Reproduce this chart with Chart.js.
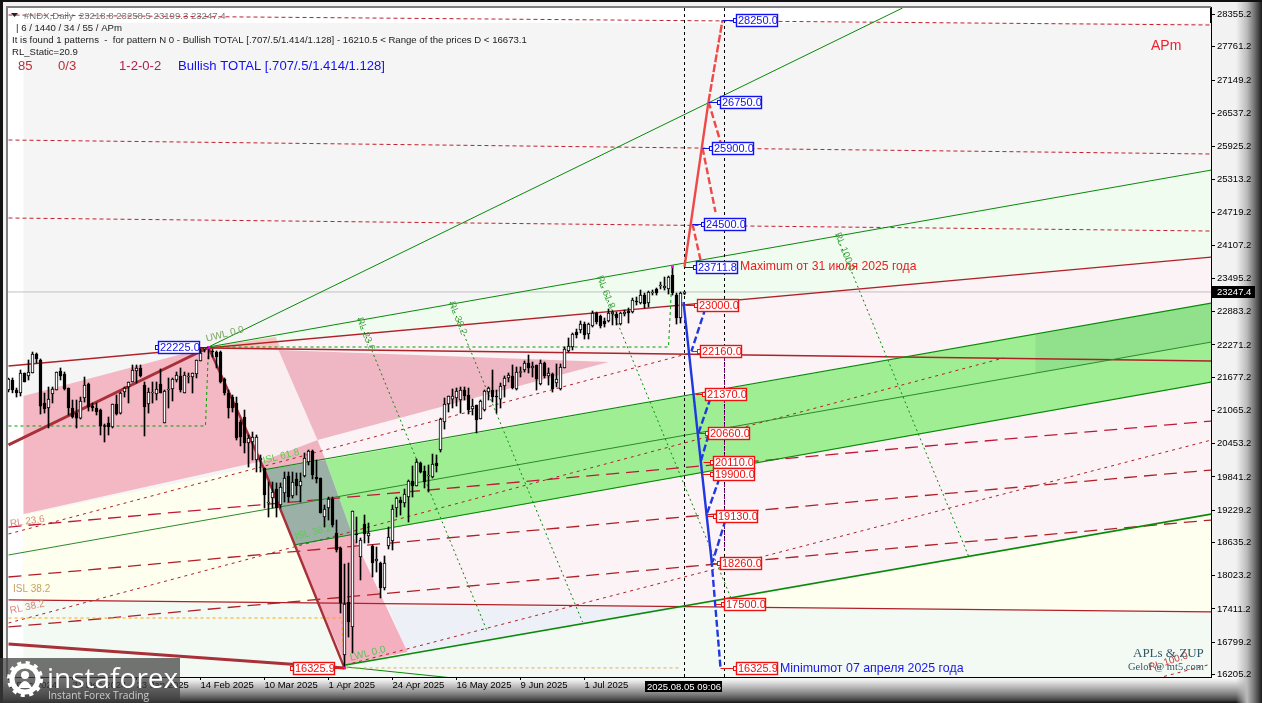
<!DOCTYPE html>
<html lang="en">
<head>
<meta charset="UTF-8">
<title>#NDX Daily</title>
<script src="https://cdn.jsdelivr.net/npm/chart.js"></script>
<style>
  html, body { margin: 0; padding: 0; }
  body {
    width: 1262px; height: 703px; overflow: hidden; position: relative;
    background:
      linear-gradient(#111, #111) top / 100% 2px no-repeat,
      linear-gradient(#111, #111) left / 3px 100% no-repeat,
      linear-gradient(to left, #1a1a1a 0, #333 2px, #777 8px, #bbb 15px, rgba(240,240,240,0) 26px) right / 28px 100% no-repeat,
      linear-gradient(to top, #111 0, #444 3px, #777 8px, #aaa 14px, #e8e8e8 22px, #fff 26px) bottom / 100% 27px no-repeat,
      #f2f2f2;
  }
  canvas { position: absolute; left: 0; top: 0; }
  #logo {
    position: absolute; left: 0; top: 658px; width: 180px; height: 45px;
    background: rgba(62,62,62,0.72); color: #fff; font-family: "Open Sans", sans-serif;
  }
  #logo svg { position: absolute; left: 7px; top: 3px; }
  #logo .name { position: absolute; left: 47px; top: -1px; font-size: 28px; line-height: 40px; letter-spacing: 0; }
  #logo .sub { position: absolute; left: 48px; top: 31px; font-size: 10.2px; line-height: 13px; color: #ccc; }
</style>
</head>
<body>
<canvas id="chart" width="1262" height="703"></canvas>
<div id="logo">
  <svg width="36" height="36" viewBox="0 0 36 36">
    <circle cx="18" cy="18" r="13" fill="none" stroke="#fff" stroke-width="5"/>
    <circle cx="18" cy="18" r="16" fill="none" stroke="#fff" stroke-width="4" stroke-dasharray="4 4.4"/>
    <circle cx="18" cy="14" r="4" fill="#fff"/>
    <path d="M11 27 Q18 13 25 27 Z" fill="#fff"/>
  </svg>
  <div class="name">instaforex</div>
  <div class="sub">Instant Forex Trading</div>
</div>
<script>
// daily candles, oldest first
const opens = [
21442,21627,21442,21387,21756,21701,21756,22106,21995,21203,
21111,21369,21442,21793,21737,21479,21111,21018,20926,21295,
21553,21147,21111,21074,20780,20835,20761,21184,21018,21405,
21498,21590,21793,21848,21535,21184,21387,21369,21553,20835,
21442,21461,21627,21701,21387,21682,21682,21737,21977,22197,
22216,22161,22142,22142,21645,21387,21313,21203,20853,20945,
20467,20485,20154,20154,20007,19362,19454,19620,19325,19546,
19860,19491,19804,19675,19860,20117,20320,19841,19823,19104,
19270,19436,18810,18534,16564,17540,17079,18790,18368,18975,
18755,18571,18295,18258,17798,18571,18663,19270,19417,19362,
19472,19768,19675,20099,19952,19860,19841,20099,20338,20853,
21184,21276,21295,21258,21442,21350,21092,21166,20908,21074,
21405,21442,21332,21276,21516,21664,21701,21461,21765,21811,
21940,21848,21903,21553,21940,21701,21737,21571,21461,21848,
22161,22234,22510,22547,22657,22473,22621,22860,22805,22713,
22713,22842,22842,22657,22842,22897,22878,23081,23044,23191,
23044,23228,23302,23357,23320,23302,23559,23191,22768,23218.8];
const highs = [
21664,21664,21479,21811,21756,21995,22142,22124,22014,21387,
21498,21498,21774,21848,21774,21479,21258,21258,21313,21682,
21571,21203,21203,21092,20816,20945,21184,21350,21405,21498,
21590,21903,21903,21903,21590,21479,21590,21590,21830,21442,
21664,21664,21774,21848,21774,21756,21756,21995,22197,22225,
22225,22197,22161,22161,21664,21442,21350,21313,20890,21074,
20614,20669,20614,20246,20007,19749,19749,19731,19731,19933,
19933,19933,19915,19915,20283,20338,20338,20154,19823,19325,
19472,19472,19049,18552,18239,18258,19215,19104,18718,19141,
18994,18589,18552,18276,18387,18920,19325,19472,19472,19620,
19786,20044,20172,20117,20044,20062,20264,20246,20926,21295,
21332,21461,21479,21498,21498,21479,21276,21166,21258,21442,
21498,21811,21442,21571,21701,21756,21903,21866,21866,21977,
22087,21958,21903,21995,21958,21848,21756,21922,21922,22234,
22400,22492,22565,22713,22694,22676,22897,22878,22823,22768,
22934,22897,22878,22878,22915,22952,23136,23154,23283,23228,
23265,23283,23320,23430,23522,23541,23711.8,23228,23246,23258.5];
const lows = [
21405,21390,21313,21332,21590,21627,21756,21940,21000,21018,
20743,21203,21442,21627,21442,20982,20926,20743,20908,21221,
21055,21055,20982,20614,20485,20614,20743,20982,21000,21313,
21203,21590,21571,21682,20596,21018,21203,21258,21387,20835,
21111,21240,21590,21405,21387,21571,21387,21664,21977,22142,
22014,22050,21848,21571,21350,20926,21037,20522,20412,20283,
20025,20154,19933,19933,19270,19104,19270,19104,19270,19380,
19380,19454,19509,19380,19841,20062,19804,19731,19178,18920,
19049,18920,18460,17337,16326,16895,16601,18626,17945,18626,
18626,18000,18092,17614,17761,18516,18497,19104,19141,19288,
19012,19472,19675,19915,19638,19564,19823,19933,20301,20724,
21037,21111,21147,21018,21258,21000,20982,20651,20908,21055,
21258,21221,21018,21111,21313,21590,21461,21442,21682,21774,
21756,21682,21442,21535,21664,21535,21405,21498,21442,21848,
22142,22179,22400,22492,22381,22381,22602,22657,22584,22602,
22694,22639,22639,22639,22805,22676,22860,23007,23026,22952,
22970,23191,23191,23302,23283,23209,23191,22657,22676,23199.3];
const closes = [
21645,21442,21387,21756,21590,21774,22106,22014,21147,21092,
21276,21461,21774,21701,21461,21111,20945,20926,21240,21535,
21129,21111,21037,20780,20770,20761,21184,21000,21387,21479,
21590,21811,21848,21701,21129,21405,21405,21461,21387,21424,
21461,21645,21719,21442,21719,21701,21756,21995,22124,22216,
22207,22142,22050,21590,21387,21111,21111,20559,20577,20467,
20559,20577,20577,20191,19509,19380,19564,19270,19657,19823,
19472,19749,19675,19768,20191,20320,19878,19804,19178,19251,
19436,18957,18497,17522,17503,17171,19215,18773,18681,18791,
18810,18258,18332,17798,18258,18736,19251,19454,19362,19528,
19768,19675,20117,19933,19749,19878,20080,20044,20908,21184,
21332,21332,21424,21442,21332,21074,21147,20890,21240,21424,
21479,21313,21313,21516,21664,21719,21479,21774,21774,21940,
21848,21885,21645,21940,21701,21756,21461,21645,21866,22197,
22253,22473,22455,22657,22455,22657,22860,22694,22621,22657,
22860,22878,22768,22860,22878,22860,23099,23062,23191,23026,
23246,23246,23228,23375,23357,23522,23228,22768,23228,23247.4];

// axes
const yTicks = [28355.2,27761.2,27149.2,26537.2,25925.2,25313.2,24719.2,24107.2,23495.2,22883.2,22271.2,21677.2,21065.2,20453.2,19841.2,19229.2,18635.2,18023.2,17411.2,16799.2,16205.2];
const xTicks = [0,16,32,48,64,80,96,112,128,144];
const xTickLabels = ['9 Dec 2024','31 Dec 2024','23 Jan 2025','14 Feb 2025','10 Mar 2025','1 Apr 2025','24 Apr 2025','16 May 2025','9 Jun 2025','1 Jul 2025'];
const lastPrice = 23247.4;

// shaded zones, [bar, price]
const zoneBase = [[3.75,28199],[300.75,28199],[300.75,16159],[3.75,16159]];
const zoneChannelTop = [[50,22234],[300.75,25492],[300.75,23891],[50,22230]];
const zoneFan = [[50,22234],[300.75,23891],[300.75,19160],[84.25,16380]];
const zoneBottom = [[3.75,17573],[300.75,17356],[300.75,16159],[3.75,16159]];
const zoneCreamLeft = [[3.75,19141],[64,20062],[77.75,17540],[3.75,17573]];
const zoneCreamRight = [[170.5,17448],[300.75,19160],[300.75,17356]];
const zoneLavender = [[95,17448],[170.5,17448],[99.75,16601]];
const zonePinkLeft = [[3.75,21332],[50,22234],[63.5,20135],[3.75,19160]];
const zonePinkStrip = [[63.5,20135],[77.25,20522],[79.25,20154],[63.5,19970]];
const zonePale = [[50,22234],[67.5,22179],[77.25,20522],[63.5,20135]];
const zonePinkTip = [[67.5,22179],[150,21958],[77.25,20522]];
const zoneSalmon = [[50,22234],[66.75,22418],[68.25,22179]];
const zoneGray = [[63.5,19970],[79.25,20154],[86,18773],[71.75,18571]];
const zoneGreen = [[79.25,20154],[300.75,23044],[300.75,21590],[86,18773]];
const zoneGreenDark = [[256.75,22455],[300.75,23044],[300.75,22326],[256.75,21756]];
const zonePinkLow = [[71.75,18571],[86,18773],[99.75,16619],[84.25,16380]];

// channel and fan lines
const lineRed = [[0,21884],[300.75,23891]];
const lineRed22160 = [[50,22216],[300.75,21976]];
const lineRed17500 = [[0,17577],[300.75,17356]];
const lineGreenSteep = [[50,22234],[223.5,28475]];
const lineGreenTop = [[50,22234],[300.75,25492]];
const lineGreenUpper = [[63.5,19970],[300.75,23044]];
const lineGreenMid = [[0,18405],[300.75,22326]];
const lineGreenLower = [[71.25,18589],[300.75,21590]];
const lineGreenThick = [[84.25,16380],[300.75,19160]];
const lineGreenLow = [[84.5,16343],[116,16104]];
const resistance1 = [[0,28346],[300.75,28162]];
const resistance2 = [[0,26045],[300.75,25787]];
const resistance3 = [[0,24609],[300.75,24369]];
const fanDots1 = [[0,18792],[170.5,22124]];
const fanDots2 = [[0,17153],[248.75,22032]];
const fanDots3 = [[84.25,16380],[300.75,20522]];
const fanDots4 = [[285.5,16104],[300.75,16398]];
const fanDash1 = [[0,18920],[300.75,20872]];
const fanDash2 = [[0,18000],[300.75,19970]];
const fanDash3 = [[0,17080],[300.75,19049]];
const timeLine1 = [[87.5,22768],[119.75,16987]];
const timeLine2 = [[110.5,23062],[143.5,17172]];
const timeLine3 = [[147.5,23523],[180.5,17632]];
const timeLine4 = [[207,24296],[240,18387]];
const stepGreenLeft = [[0,20780],[49.25,20780],[50,22234]];
const stepGreenRight = [[50,22234],[165,22234],[166,23711.8]];
const stepOrangeLeft = [[0,17245],[83.25,17245],[84,16326]];
const stepOrangeRight = [[84.25,16326],[168,16326]];
const swingUp = [[0,20430],[50,22225]];
const swingDown1 = [[50,22225],[64,19970]];
const swingDown2 = [[64,19970],[84,16325.9]];
const swingBase = [[0,16767],[84,16325.9]];
const cursorLeft = [[169,28475],[169,16159]];
const cursorRight = [[179,28475],[179,16159]];
const cursorRightMid = [[179,22142],[179,18500]];

// projected patterns
const projUp = [[169,23711.8],[175,26750]];
const projUpEnd = [[175,26750],[178.5,28250]];
const projUpBack = [[[171,24500],[173,23836]],[[173.5,25900],[176.75,24720]],[[175,26750],[178,26008]]];
const projDown = [[168.75,23062],[175.75,18313]];
const projDownEnd = [[175.75,18313],[178,16325.9]];
const projDownBack = [[[174.25,22952],[170.75,22160]],[[175.5,21295],[172.5,20650]],[[175,20614],[173,20110]],[[177.75,19822],[174.5,19141]],[[179.25,19049],[176,18276]]];
const pivots = [[50,22225],[166,23711.8],[84,16325.9]];

// level tags: value, bar it points at, bar the box starts on
const blueLevels = [28250,26750,25900,24500,23711.8,22225];
const bluePoints = [178.5,175,173.5,171,169,50];
const blueBoxes = [181.75,177.75,175.75,173.75,171.75,37.25];
const redLevels = [23000,22160,21370,20660,20110,19900,19130,18260,17500,16325.9,16325.9];
const redPoints = [169.25,170.75,171.75,172.5,173.75,173.5,174.75,175.5,176.75,178,84];
const redBoxes = [172,172.75,174,174.75,176,176,176.75,177.75,178.75,181.75,71];

const headerLines = ['| 6 / 1440 / 34 / 55 / APm','It is found 1 patterns  -  for pattern N 0 - Bullish TOTAL [.707/.5/1.414/1.128] - 16210.5 < Range of the prices D < 16673.1','RL_Static=20.9'];

const toPts = arr => arr.map(p => ({ x: p[0], y: p[1] }));
const datasets = [];
let order = 1000;

function zone(points, color) {
  datasets.push({ type: 'line', data: toPts(points), backgroundColor: color, borderWidth: 0, pointRadius: 0, fill: 'shape', order: order-- });
}
function line(points, color, width, dash) {
  datasets.push({ type: 'line', data: toPts(points), borderColor: color, borderWidth: width, borderDash: dash || [], pointRadius: 0, fill: false, order: order-- });
}

zone(zoneBase, '#f5f5f5');
zone(zoneBottom, '#f3f9f3');
zone(zoneCreamLeft, '#fffff0');
zone(zoneChannelTop, '#f0fcf0');
zone(zoneFan, '#fbf3f5');
zone(zoneCreamRight, '#fffff0');
zone(zoneLavender, '#eef0f8');
zone(zonePinkLeft, '#f4b8c4');
zone(zonePale, '#fbeef0');
zone(zonePinkStrip, '#f0b4c0');
zone(zonePinkTip, '#efb7c3');
zone(zoneSalmon, '#f6c6c0');
zone(zoneGreen, '#a0ee94');
zone(zoneGreenDark, '#90e08c');
zone(zoneGray, '#9bb1a8');
zone(zonePinkLow, '#f5b0bf');

const darkRed = '#b02028', green = '#088a08';
line([[-1,lastPrice],[301,lastPrice]], '#c0c0c0', 1);
line(resistance1, '#c02030', 1, [4,3]);
line(resistance2, '#c02030', 1, [4,3]);
line(resistance3, '#c02030', 1, [4,3]);
line(fanDots1, darkRed, 1, [3,4]);
line(fanDots2, darkRed, 1, [3,4]);
line(fanDots3, darkRed, 1, [3,4]);
line(fanDots4, darkRed, 1, [3,4]);
line(fanDash1, '#c01838', 1.3, [13,7]);
line(fanDash2, darkRed, 1.3, [13,7]);
line(fanDash3, darkRed, 1.3, [13,7]);
line(lineRed, darkRed, 1.3);
line(lineRed22160, darkRed, 1.3);
line(lineRed17500, darkRed, 1.3);
line(lineGreenSteep, green, 1);
line(lineGreenTop, green, 1);
line(lineGreenUpper, green, 1.2);
line(lineGreenMid, '#2a8a2a', 1);
line(lineGreenLower, green, 1.2);
line(lineGreenThick, green, 1.6);
line(lineGreenLow, green, 1);
[timeLine1, timeLine2, timeLine3, timeLine4].forEach(t => line(t, green, 1, [2,3]));
line(stepGreenLeft, '#00a000', 1, [3,3]);
line(stepGreenRight, '#00a000', 1, [3,3]);
line(stepOrangeLeft, '#ffa500', 1, [3,3]);
line(stepOrangeRight, '#e8a850', 1, [3,3]);
line(swingUp, '#a83038', 3);
line(swingDown1, '#a83038', 2.4);
line(swingDown2, '#a83038', 2.4);
line(swingBase, '#a83038', 3);
line(cursorLeft, '#000', 1, [3,3]);
line(cursorRight, '#000', 1, [3,3]);
line(cursorRightMid, '#800080', 1, [3,3]);

// candles: wick first, body on top
const candleOrder = order--;
datasets.push({ type: 'bar', data: highs.map((h, i) => ({ x: i, y: [lows[i], h] })), backgroundColor: '#000', barThickness: 1, grouped: false, order: candleOrder });
datasets.push({
  type: 'bar', data: opens.map((o, i) => ({ x: i, y: [o, closes[i]] })),
  backgroundColor: opens.map((o, i) => closes[i] >= o ? '#fff' : '#000'),
  borderColor: '#000', borderWidth: 1, borderSkipped: false, barThickness: 3, minBarLength: 1, grouped: false, order: candleOrder - 1
});
order -= 2;

line(projUp, '#f04848', 2.4);
line(projUpEnd, '#f04848', 2.4, [8,2]);
projUpBack.forEach(b => line(b, '#f04848', 2.4, [7,3]));
line(projDown, '#2038e0', 2.4);
line(projDownEnd, '#2038e0', 2.4, [7,3]);
projDownBack.forEach(b => line(b, '#2038e0', 2.4, [7,3]));
datasets.push({ type: 'line', data: toPts(pivots), showLine: false, pointStyle: 'rect', pointRadius: 2, pointBackgroundColor: '#ff00ff', pointBorderWidth: 0, order: order-- });

function text(ctx, str, x, y, font, color, angle) {
  ctx.save();
  ctx.translate(x, y);
  if (angle) ctx.rotate(angle * Math.PI / 180);
  ctx.font = font;
  ctx.fillStyle = color;
  ctx.textAlign = 'left';
  ctx.textBaseline = 'middle';
  ctx.fillText(str, 0, 0);
  ctx.restore();
}

function levelTags(chart, levels, points, boxes, color) {
  const ctx = chart.ctx, sx = chart.scales.x, sy = chart.scales.y;
  levels.forEach((v, i) => {
    const py = Math.round(sy.getPixelForValue(v)) + 0.5;
    const left = Math.round(sx.getPixelForValue(boxes[i])) + 0.5;
    const from = sx.getPixelForValue(points[i]);
    ctx.strokeStyle = color; ctx.lineWidth = 1;
    ctx.beginPath(); ctx.moveTo(from, py); ctx.lineTo(left, py); ctx.stroke();
    ctx.fillStyle = '#fff';
    ctx.fillRect(left - 3, py - 2, 3, 4); ctx.strokeRect(left - 3, py - 2, 3, 4);
    ctx.fillRect(left, py - 6, 41, 12);
    ctx.lineWidth = 1.4; ctx.strokeRect(left, py - 6, 41, 12);
    text(ctx, v.toFixed(1), left + 1.5, py + 0.5, '11px "Liberation Sans"', color);
  });
}

const overlay = {
  id: 'overlay',
  beforeDraw(chart) {
    const { ctx, chartArea: a } = chart;
    ctx.fillStyle = '#fff';
    ctx.fillRect(a.left, a.top, a.width, a.height);
  },
  afterDraw(chart) {
    const { ctx, chartArea: a, scales: { x: sx, y: sy } } = chart;
    // top and left inset of the window
    ctx.strokeStyle = '#808080'; ctx.lineWidth = 2;
    ctx.beginPath(); ctx.moveTo(a.left - 1, a.bottom); ctx.lineTo(a.left - 1, a.top - 1); ctx.lineTo(a.right, a.top - 1); ctx.stroke();

    const small = '9.6px "Liberation Sans"';
    ctx.fillStyle = '#222';
    ctx.beginPath(); ctx.moveTo(11, 13); ctx.lineTo(18, 13); ctx.lineTo(14.5, 17); ctx.fill();
    text(ctx, '#NDX,Daily  23218.8 23258.5 23199.3 23247.4', 24, 16, small, '#777');
    text(ctx, headerLines[0], 16, 28.5, small, '#222');
    text(ctx, headerLines[1], 12, 40.5, small, '#222');
    text(ctx, headerLines[2], 12, 52.5, small, '#222');
    const big = '13.1px "Liberation Sans"';
    text(ctx, '85', 18, 66, big, '#b83038');
    text(ctx, '0/3', 58, 66, big, '#b83038');
    text(ctx, '1-2-0-2', 119, 66, big, '#b02050');
    text(ctx, 'Bullish TOTAL [.707/.5/1.414/1.128]', 178, 66, big, '#1010f0');
    text(ctx, 'APm', 1151, 46, '14px "Liberation Sans"', '#f02030');

    // rotated level names
    const tag = '10px "Liberation Sans"';
    text(ctx, 'UWL 0.0', 206, 339, tag, '#7aa860', -14);
    text(ctx, 'LWL 0.0', 350, 658, tag, '#5cc05c', -14);
    text(ctx, 'ISL 61.8', 263, 461, tag, '#58d048', -14);
    text(ctx, 'ISL 38.2', 295, 537, tag, '#58d048', -14);
    text(ctx, 'RL 23.6', 10, 524, tag, '#d88878', -8);
    text(ctx, 'ISL 38.2', 13, 589, tag, '#c8a060');
    text(ctx, 'RL 38.2', 10, 611, tag, '#d88878', -12);
    text(ctx, 'RL 100.0', 1149, 668, tag, '#c84040', -18);
    text(ctx, 'RL 23.6', 359, 318, tag, '#50a850', 68);
    text(ctx, 'RL 38.2', 451, 302, tag, '#50a850', 68);
    text(ctx, 'RL 61.8', 599, 276, tag, '#50a850', 68);
    text(ctx, 'RL 100.0', 837, 233, tag, '#50a850', 68);

    levelTags(chart, blueLevels, bluePoints, blueBoxes, '#1010f0');
    levelTags(chart, redLevels, redPoints, redBoxes, '#f01010');
    text(ctx, 'Maximum от 31 июля 2025 года', 740, 267, '12.2px "Liberation Sans"', '#e82020');
    text(ctx, 'Minimumот 07 апреля 2025 года', 780, 668.5, '12.4px "Liberation Sans"', '#1818e8');

    text(ctx, 'APLs & ZUP', 1133, 654, '13px "Liberation Serif"', '#305868');
    text(ctx, 'Gelof @ mt5.com', 1128, 667, '10.5px "Liberation Serif"', '#305868');

    // current price tag
    const py = Math.round(sy.getPixelForValue(lastPrice));
    ctx.fillStyle = '#000'; ctx.fillRect(a.right + 1, py - 6, 43, 12);
    text(ctx, lastPrice.toFixed(1), a.right + 6, py + 0.5, '9.5px "Liberation Sans"', '#fff');
    // crosshair time tag
    ctx.fillStyle = '#000'; ctx.fillRect(645, a.bottom + 4, 77, 11);
    text(ctx, '2025.08.05 09:06', 647, a.bottom + 10, '9.5px "Liberation Sans"', '#fff');
  }
};

new Chart(document.getElementById('chart'), {
  data: { datasets },
  plugins: [overlay],
  options: {
    responsive: false,
    animation: false,
    events: [],
    layout: { padding: { left: 8, top: 8, right: 0, bottom: 0 } },
    plugins: { legend: { display: false }, tooltip: { enabled: false } },
    scales: {
      x: {
        type: 'linear', offset: false, min: -0.125, max: 300.625,
        afterFit: a => { a.height = 26; },
        afterBuildTicks: a => { a.ticks = xTicks.map(v => ({ value: v })); },
        grid: { offset: false, drawOnChartArea: false, tickLength: 3, color: '#000' },
        border: { color: '#000', width: 1 },
        ticks: {
          autoSkip: false, maxRotation: 0, minRotation: 0, align: 'start', padding: 0,
          color: '#000', font: { family: 'Liberation Sans', size: 9.5 },
          callback: v => xTickLabels[xTicks.indexOf(v)]
        }
      },
      y: {
        type: 'linear', position: 'right', min: 16159, max: 28475,
        afterFit: a => { a.width = 51; },
        afterBuildTicks: a => { a.ticks = yTicks.map(v => ({ value: v })); },
        grid: { drawOnChartArea: false, tickLength: 4, color: '#000' },
        border: { color: '#000', width: 2 },
        ticks: {
          autoSkip: false, padding: 2, color: '#000',
          font: { family: 'Liberation Sans', size: 9.5 },
          callback: v => v.toFixed(1)
        }
      }
    }
  }
});
</script>
</body>
</html>
